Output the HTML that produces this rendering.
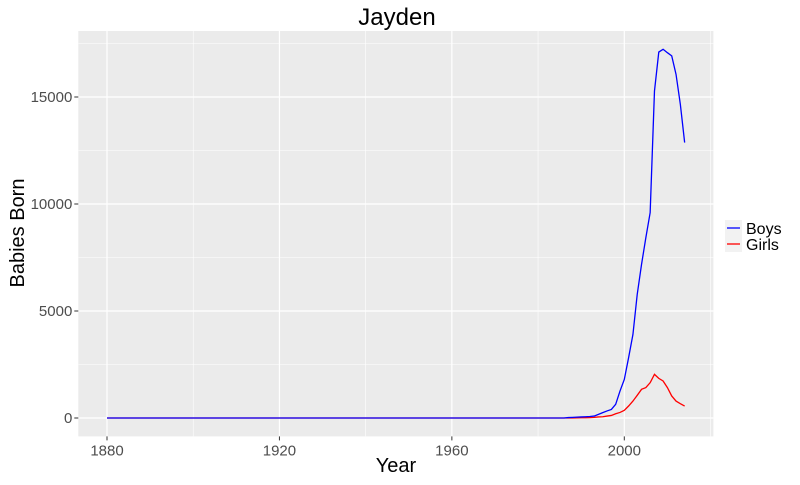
<!DOCTYPE html>
<html><head><meta charset="utf-8"><style>
body{margin:0;background:#fff;font-family:"Liberation Sans",sans-serif}
</style></head><body>
<svg id="chart" width="800" height="480" xmlns="http://www.w3.org/2000/svg"></svg>
<script>
const years=[];for(let y=1880;y<=2014;y++)years.push(y);
const boysRecent=[20,30,40,50,60,70,90,170,250,330,400,640,1260,1800,2820,3900,5780,7180,8430,9600,15280,17100,17230,17070,16920,16060,14660,12870];
const girlsRecent=[0,0,5,10,15,20,30,50,60,90,120,200,260,360,560,790,1060,1340,1420,1650,2040,1850,1730,1420,1030,790,670,560];
const boys=years.map((y,i)=>i<years.length-boysRecent.length?0:boysRecent[i-(years.length-boysRecent.length)]);
const girls=years.map((y,i)=>i<years.length-girlsRecent.length?0:girlsRecent[i-(years.length-girlsRecent.length)]);
const xTicks=[1880,1920,1960,2000];
const yTicks=[0,5000,10000,15000];
const NS="http://www.w3.org/2000/svg";
const svg=document.getElementById('chart');
const L=78.3,R=713.4,T=31,B=436.4;
const x=v=>107+(v-1880)*(624.3-107)/120;
const y=v=>418-v*(418-311)/5000;
function el(t,a,p){const e=document.createElementNS(NS,t);for(const k in a)e.setAttribute(k,a[k]);(p||svg).appendChild(e);return e;}
const panel=el('rect',{x:L,y:T,width:R-L,height:B-T,fill:'#ebebeb'});


[1900,1940,1980,2020].forEach(v=>{const g=el('line',{x1:x(v),x2:x(v),y1:T,y2:B,stroke:'#fff','stroke-width':0.6});});
[2500,7500,12500,17500].forEach(v=>{const g=el('line',{x1:L,x2:R,y1:y(v),y2:y(v),stroke:'#fff','stroke-width':0.6});});
xTicks.forEach(v=>{const g=el('line',{x1:x(v),x2:x(v),y1:T,y2:B,stroke:'#fff','stroke-width':1.2});
el('line',{x1:x(v),x2:x(v),y1:B,y2:B+4,stroke:'#333'});
const t=el('text',{x:x(v),y:B+19,'text-anchor':'middle','font-size':15,fill:'#4d4d4d'});t.textContent=v;});
yTicks.forEach(v=>{const g=el('line',{x1:L,x2:R,y1:y(v),y2:y(v),stroke:'#fff','stroke-width':1.2});
el('line',{x1:L-4,x2:L,y1:y(v),y2:y(v),stroke:'#333'});
const t=el('text',{x:L-6,y:y(v)+5,'text-anchor':'end','font-size':15,fill:'#4d4d4d'});t.textContent=v;});
function line(vals,color,name){const p=el('polyline',{points:years.map((yr,i)=>x(yr)+','+y(vals[i])).join(' '),fill:'none',stroke:color,'stroke-width':1.3});}
line(girls,'#ff0000','girls-line');
line(boys,'#0000ff','boys-line');
const ti=el('text',{x:397,y:25,'text-anchor':'middle','font-size':24});ti.textContent='Jayden';
const xt=el('text',{x:396,y:472,'text-anchor':'middle','font-size':20});xt.textContent='Year';
const yt=el('text',{x:24,y:233,'text-anchor':'middle','font-size':20,transform:'rotate(-90 24 233)'});yt.textContent='Babies Born';
[['Boys','#0000ff',228],['Girls','#ff0000',244]].forEach(([n,c,cy])=>{
const g=el('g',{});
el('rect',{x:725,y:cy-8,width:17,height:16,fill:'#f2f2f2'},g);
el('line',{x1:727,x2:740,y1:cy,y2:cy,stroke:c,'stroke-width':1.3},g);
const t=el('text',{x:746,y:cy+6,'font-size':16},g);t.textContent=n;});
</script>
</body></html>
